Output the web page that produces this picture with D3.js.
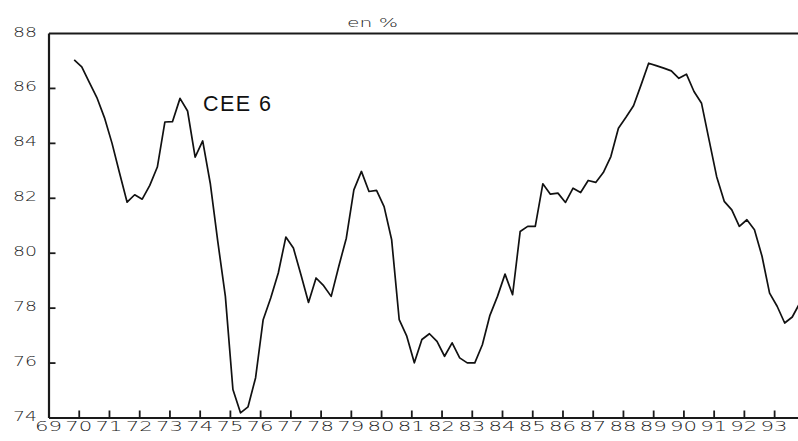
<!DOCTYPE html>
<html>
<head>
<meta charset="utf-8">
<script src="https://cdn.jsdelivr.net/npm/d3@7"></script>
<style>
  html, body { margin: 0; padding: 0; background: #fff; }
  svg { display: block; }
</style>
</head>
<body>
<svg id="chart" width="798" height="441" viewBox="0 0 798 441"></svg>
<script>
// ---- Data (quarterly) ----
const seriesName = "CEE 6";
const unitLabel = "en %";
const firstPeriod = 69.85;   // position of the first quarterly observation (year units)
const periodStep = 0.25;     // one quarter
const values = [
  87.02, 86.77, 86.20, 85.65, 84.92, 83.99, 82.90, 81.84, 82.11, 81.95,
  82.45, 83.12, 84.76, 84.77, 85.62, 85.16, 83.48, 84.07, 82.53, 80.40,
  78.41, 75.02, 74.17, 74.39, 75.45, 77.56, 78.35, 79.26, 80.57, 80.17,
  79.20, 78.19, 79.08, 78.80, 78.41, 79.50, 80.53, 82.29, 82.96, 82.23,
  82.27, 81.68, 80.47, 77.56, 76.96, 75.99, 76.84, 77.05, 76.77, 76.23,
  76.72, 76.17, 75.99, 75.99, 76.65, 77.72, 78.41, 79.22, 78.47, 80.77,
  80.96, 80.96, 82.51, 82.13, 82.17, 81.83, 82.35, 82.19, 82.63, 82.56,
  82.92, 83.50, 84.53, 84.93, 85.35, 86.11, 86.90, 86.81, 86.72, 86.62,
  86.35, 86.50, 85.87, 85.44, 84.10, 82.77, 81.87, 81.56, 80.96, 81.20,
  80.84, 79.87, 78.53, 78.05, 77.44, 77.66, 78.17
];
const yTicks = [74, 76, 78, 80, 82, 84, 86, 88];
const xTickYears = [69,70,71,72,73,74,75,76,77,78,79,80,81,82,83,84,85,86,87,88,89,90,91,92,93];
const xDomain = [69, 93.79];
const yDomain = [74, 88];

// ---- Layout ----
const svg = d3.select("#chart");
const mLeft = 48.5, mRight = 798, mTop = 33, mBottom = 417.5;

const xs = d3.scaleLinear().domain(xDomain).range([mLeft, mRight]);
const ys = d3.scaleLinear().domain(yDomain).range([mBottom, mTop]);

const data = values.map((v, i) => ({ t: firstPeriod + i * periodStep, v }));

// Axes (d3 axes, ticks pointing inward)
const yAxis = d3.axisLeft(ys).tickValues(yTicks.filter(d => d !== yDomain[0] && d !== yDomain[1]))
  .tickSize(-7).tickSizeOuter(0).tickFormat("");
const gy = svg.append("g").attr("transform", `translate(${mLeft},0)`).call(yAxis);
const xAxis = d3.axisBottom(xs).tickValues(xTickYears.filter(d => d !== xDomain[0]))
  .tickSize(-7).tickSizeOuter(0).tickFormat("");
const gx = svg.append("g").attr("transform", `translate(0,${mBottom})`).call(xAxis);
const xTopAxis = d3.axisTop(xs).tickValues([]).tickSizeOuter(0);
const gt = svg.append("g").attr("transform", `translate(0,${mTop})`).call(xTopAxis);
[gy, gx, gt].forEach(g => {
  g.select(".domain").attr("stroke", "#1a1a1a").attr("stroke-width", 2.2);
  g.selectAll(".tick line").attr("stroke", "#1a1a1a").attr("stroke-width", 1.8);
});

// Y labels
svg.append("g").selectAll("text").data(yTicks).join("text")
  .attr("x", 13).attr("y", d => ys(d) + 3.5)
  .attr("textLength", 24).attr("lengthAdjust", "spacingAndGlyphs")
  .attr("font-family", "DejaVu Sans").attr("font-size", 14).attr("font-weight", 200)
  .attr("fill", "#222")
  .text(d => d);

// X labels
svg.append("g").selectAll("text").data(xTickYears).join("text")
  .attr("x", d => xs(d) - 13.5).attr("y", 431)
  .attr("textLength", 27).attr("lengthAdjust", "spacingAndGlyphs")
  .attr("font-family", "DejaVu Sans").attr("font-size", 14.5).attr("font-weight", 200)
  .attr("fill", "#222")
  .text(d => d);

// Unit label
svg.append("text")
  .attr("x", 347).attr("y", 27)
  .attr("textLength", 51).attr("lengthAdjust", "spacingAndGlyphs")
  .attr("font-family", "DejaVu Sans").attr("font-size", 12).attr("font-weight", 200)
  .attr("fill", "#222")
  .text(unitLabel);

// Series line
const lineGen = d3.line().x(d => xs(d.t)).y(d => ys(d.v));
svg.append("path").datum(data)
  .attr("d", lineGen)
  .attr("fill", "none").attr("stroke", "#111").attr("stroke-width", 1.7)
  .attr("stroke-linejoin", "round");

// Series name
svg.append("text")
  .attr("x", 203).attr("y", 110.5)
  .attr("font-family", "Liberation Sans, Arial, sans-serif").attr("font-size", 21.5)
  .attr("textLength", 68).attr("lengthAdjust", "spacing")
  .attr("fill", "#111")
  .text(seriesName);
</script>
</body>
</html>
